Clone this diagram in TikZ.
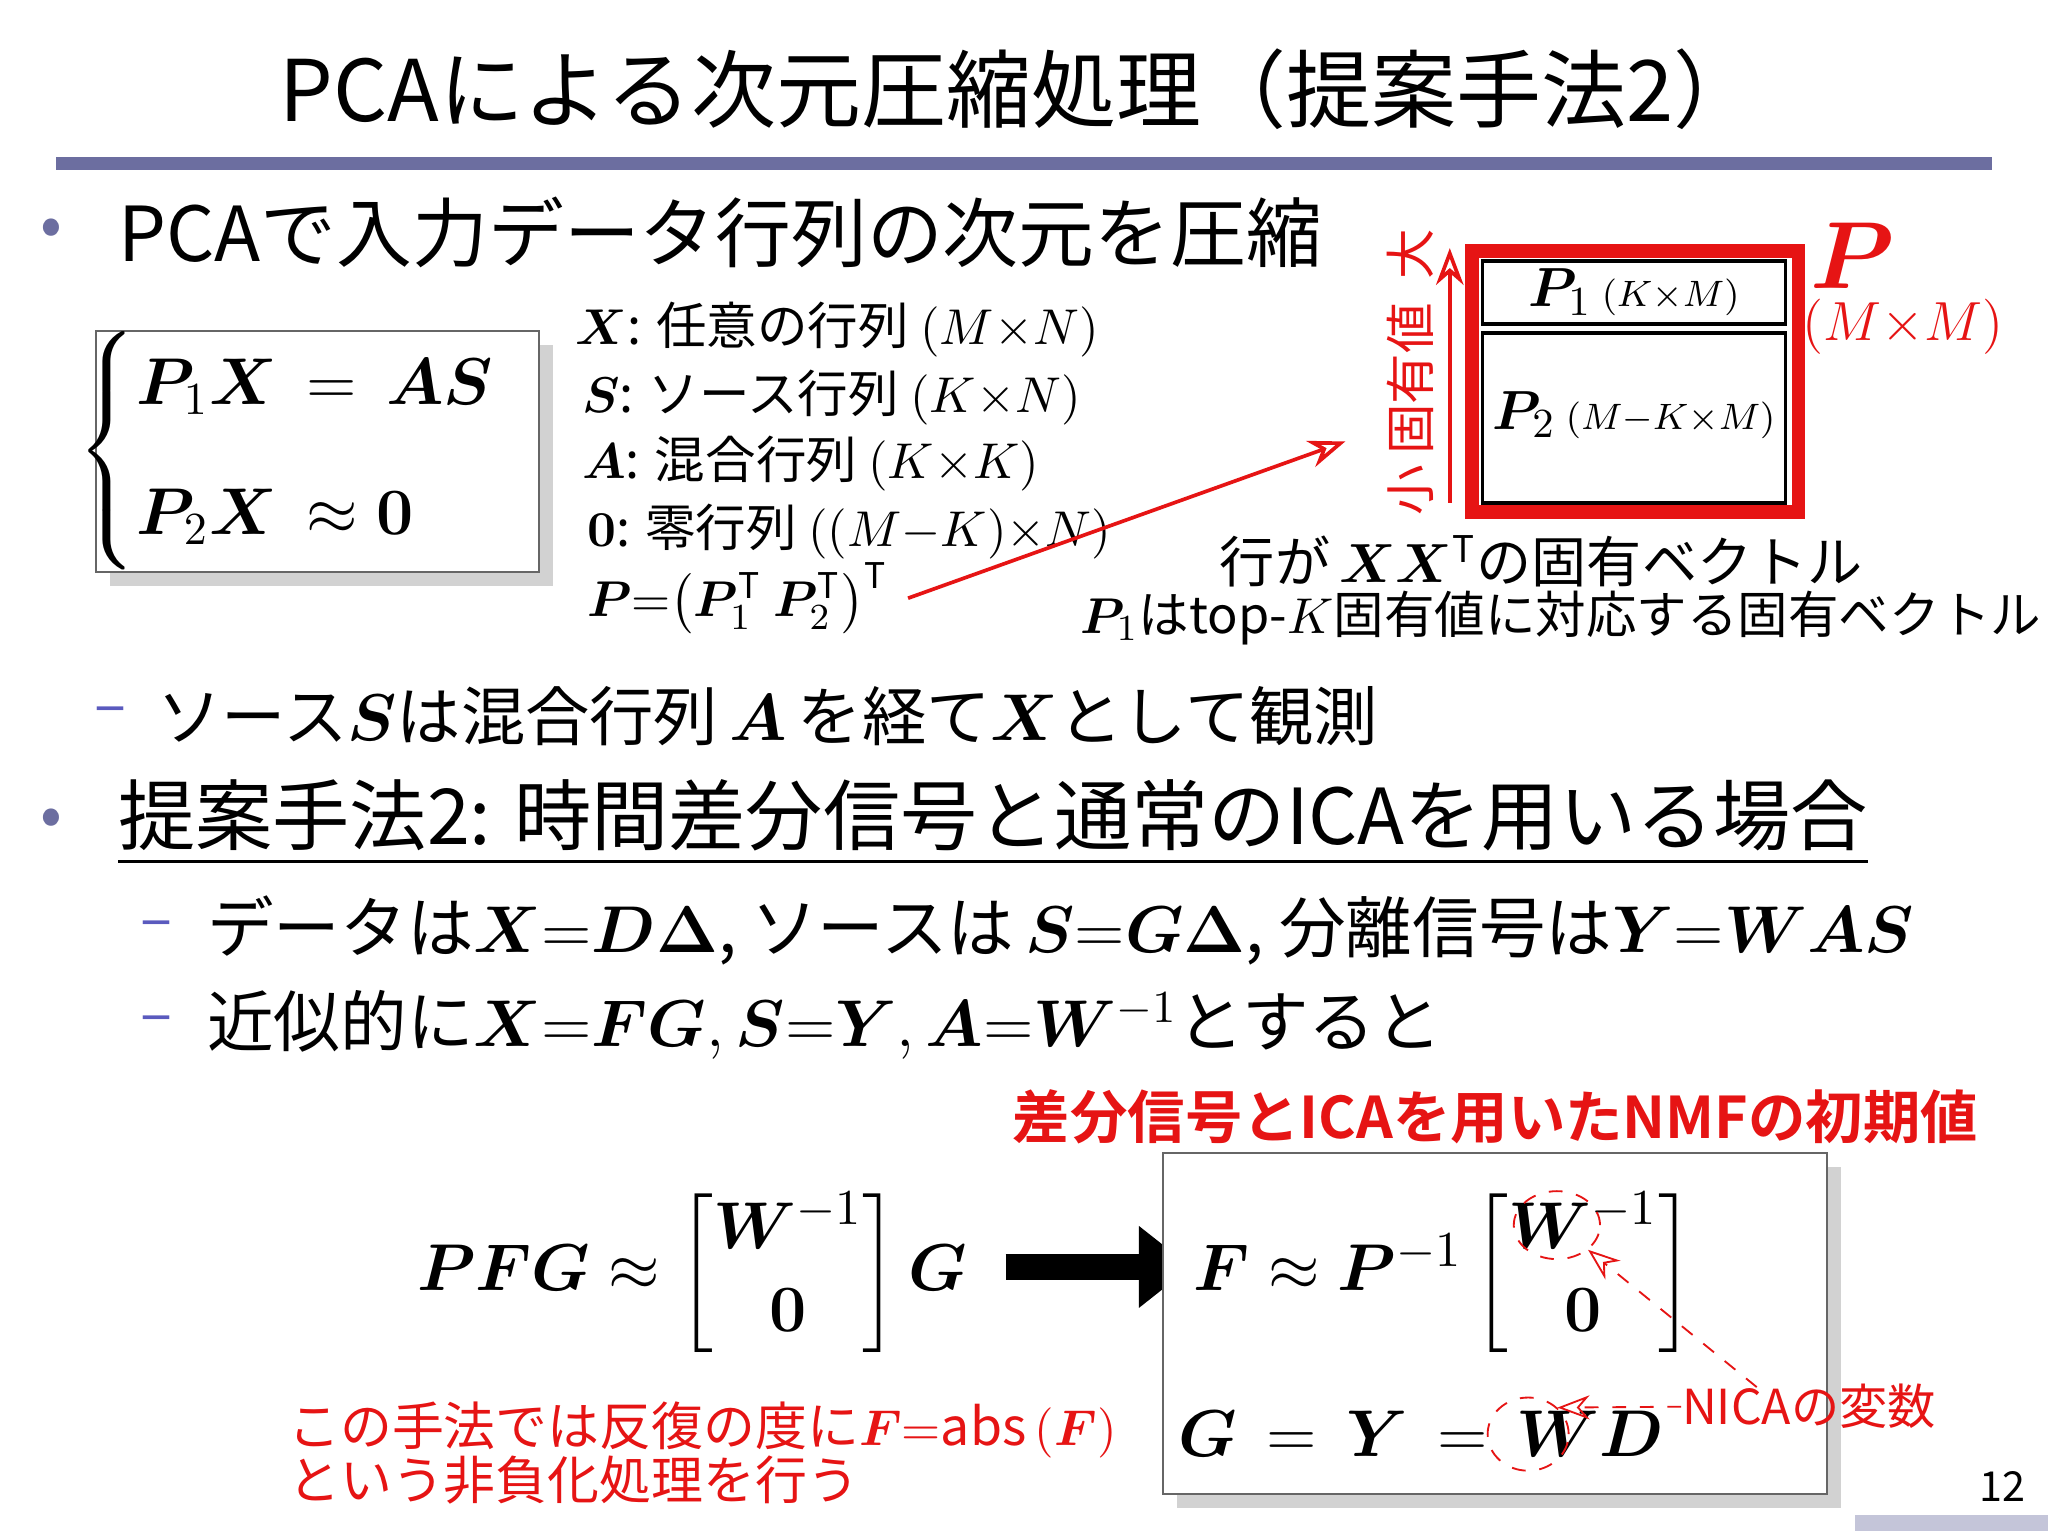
\documentclass[tikz,border=0pt]{standalone}
\usepackage{amsmath,bm}
\usepackage{fontspec}
\setmainfont{Noto Sans CJK JP}
\newfontfamily\jpb[BoldFont={* Bold}]{Noto Sans CJK JP}
\usetikzlibrary{arrows.meta,shadows,shapes.geometric}
\definecolor{barc}{RGB}{108,110,160}
\definecolor{redc}{RGB}{230,20,20}
\definecolor{dashc}{RGB}{90,90,190}
\tikzset{
  t/.style={inner sep=0pt,anchor=west},
  shbox/.style={draw=black!60,fill=white,inner sep=0pt,anchor=north west,drop shadow={shadow xshift=3pt,shadow yshift=-3pt,opacity=0.35}},
  circ/.style={draw=redc,dashed,ellipse,inner sep=0pt},
}
\newcommand{\bb}[1]{\boldsymbol{#1}}
\begin{document}
\begin{tikzpicture}[x=0.01cm,y=-0.01cm]
\useasboundingbox (0,0) rectangle (1568,1176);
\fill[white] (0,0) rectangle (1568,1176);
% title
\node[inner sep=0pt] (title) at (780,68) {\fontsize{18.5}{20}\selectfont PCAによる次元圧縮処理（提案手法2）};
\fill[barc] (43,120) rectangle (1525,130);
% bullet 1
\node[t,text=barc] (b1) at (30,178) {\fontsize{14}{16}\selectfont •};
\node[t] (l1) at (90,178) {\fontsize{16.5}{18}\selectfont PCAで入力データ行列の次元を圧縮};
% cases box
\node[shbox,minimum width=3.39cm,minimum height=1.84cm] (cb) at (73,253) {};
\node[inner sep=0pt] (cases) at (245,345) {\fontsize{14}{17}\selectfont $\begin{cases}\bb{P}_1\bb{X} \,=\, \bb{A}\bb{S}\\[8pt] \bb{P}_2\bb{X} \,\approx \bb{0}\end{cases}$};
% definitions
\node[t] (d1) at (440,252) {\fontsize{11}{13}\selectfont $\bb{X}$: 任意の行列 $(M{\times}N)$};
\node[t] (d2) at (445,304) {\fontsize{11}{13}\selectfont $\bb{S}$: ソース行列 $(K{\times}N)$};
\node[t] (d3) at (445,355) {\fontsize{11}{13}\selectfont $\bb{A}$: 混合行列 $(K{\times}K)$};
\node[t] (d4) at (449,407) {\fontsize{11}{13}\selectfont $\bb{0}$: 零行列 $((M{-}K){\times}N)$};
\node[t] (d5) at (449,458) {\fontsize{11}{13}\selectfont $\bb{P}{=}\bigl(\bb{P}_1^{\mathrm T}\ \bb{P}_2^{\mathrm T}\bigr)^{\mathrm T}$};
\coordinate (ae) at (1030,338);
\draw[redc,thick,-{Stealth[length=8pt,open]}] (d5.east) ++(15,0) -- (ae);
% eigen labels
\node[inner sep=0pt,text=redc] (big) at (1080,195) {\fontsize{11}{13}\selectfont\rotatebox{90}{大}};
\node[inner sep=0pt,text=redc] (ev) at (1080,290) {\fontsize{11}{13}\selectfont\rotatebox{90}{固有値}};
\node[inner sep=0pt,text=redc] (small) at (1080,375) {\fontsize{11}{13}\selectfont\rotatebox{90}{小}};
\coordinate (va) at (1110,385);\coordinate (vb) at (1110,190);
\draw[redc,thick,-{Stealth[length=8pt,open]}] (va) -- (vb);
\draw[redc,line width=3pt] (1127,192) rectangle (1377,392);
\draw[thick] (1135,200) rectangle (1367,248);
\draw[thick] (1135,255) rectangle (1367,385);
\node[inner sep=0pt] (p1) at (1251,224) {\fontsize{13}{15}\selectfont $\bb{P}_1$\,{\fontsize{8}{10}\selectfont$(K{\times}M)$}};
\node[inner sep=0pt] (p2) at (1251,318) {\fontsize{13}{15}\selectfont $\bb{P}_2$\,{\fontsize{8}{10}\selectfont$(M{-}K{\times}M)$}};
\node[inner sep=0pt,text=redc] (bigP) at (1418,196) {\fontsize{22}{24}\selectfont $\bb{P}$};
\node[inner sep=0pt,text=redc] (mm) at (1457,250) {\fontsize{11.5}{14}\selectfont $(M{\times}M)$};
\node[inner sep=0pt] (e1) at (1180,430) {\fontsize{12}{14}\selectfont 行が$\,\bb{X}\bb{X}^{\mathrm T}$の固有ベクトル};
\node[inner sep=0pt] (e2) at (1195,473) {\fontsize{11}{14}\selectfont $\bb{P}_1$はtop-$K$固有値に対応する固有ベクトル};
% sub
\node[t,text=dashc] (s1d) at (72,548) {\fontsize{13}{15}\selectfont –};
\node[t] (s1) at (120,548) {\fontsize{14}{15}\selectfont ソース$\bb{S}$は混合行列$\,\bb{A}\,$を経て$\bb{X}$として観測};
% bullet 2
\node[t,text=barc] (b2) at (30,630) {\fontsize{14}{16}\selectfont •};
\node[t] (l2) at (90,630) {\fontsize{16.8}{18}\selectfont \underline{提案手法2: 時間差分信号と通常のICAを用いる場合}};
\node[t,text=dashc] (s2d) at (107,712) {\fontsize{13}{15}\selectfont –};
\node[t] (s2) at (158,712) {\fontsize{14.5}{15}\selectfont データは$\bb{X}{=}\bb{D}\bb{\Delta}$, ソースは$\,\bb{S}{=}\bb{G}\bb{\Delta}$, 分離信号は$\bb{Y}{=}\bb{W}\bb{A}\bb{S}$};
\node[t,text=dashc] (s3d) at (107,785) {\fontsize{13}{15}\selectfont –};
\node[t] (s3) at (158,785) {\fontsize{14.5}{15}\selectfont 近似的に$\bb{X}{=}\bb{F}\bb{G}, \bb{S}{=}\bb{Y}, \bb{A}{=}\bb{W}^{-1}$とすると};
% bottom
\node[inner sep=0pt,text=redc] (rt) at (1145,855) {\fontsize{12.5}{14}\selectfont\jpb\bfseries 差分信号とICAを用いたNMFの初期値};
\node[inner sep=0pt] (leq) at (530,975) {\fontsize{15}{18}\selectfont $\bb{P}\bb{F}\bb{G}\approx\begin{bmatrix}\bb{W}^{-1}\\ \bb{0}\end{bmatrix}\bb{G}$};
\coordinate (aa) at (770,970);\coordinate (ab) at (912,970);
\draw[line width=0.2cm,-{Triangle[length=0.4cm,width=0.6cm]}] (aa) -- (ab);
\node[shbox,minimum width=5.08cm,minimum height=2.61cm] (rb) at (890,882) {};
\node[inner sep=0pt] (req) at (1105,975) {\fontsize{15}{18}\selectfont $\bb{F}\approx\bb{P}^{-1}\begin{bmatrix}\bb{W}^{-1}\\ \bb{0}\end{bmatrix}$};
\node[inner sep=0pt] (geq) at (1088,1098) {\fontsize{15}{18}\selectfont $\bb{G}\,=\,\bb{Y}\,=\,\bb{W}\bb{D}$};
\node[circ,minimum width=0.66cm,minimum height=0.52cm] (c1) at (1192,938) {};
\node[circ,minimum width=0.62cm,minimum height=0.56cm] (c2) at (1170,1098) {};
\node[inner sep=0pt,text=redc] (nica) at (1385,1077) {\fontsize{10.5}{12}\selectfont NICAの変数};
\draw[redc,dashed,-{Stealth[length=7pt,open]}] (1345,1062) -- (c1.south east);
\draw[redc,dashed,-{Stealth[length=7pt,open]}] (nica.west) -- (c2.north east);
\node[t,text=redc] (n1) at (220,1095) {\fontsize{11.3}{14}\selectfont この手法では反復の度に$\bb{F}{=}\mathrm{abs}\left(\bb{F}\right)$};
\node[t,text=redc] (n2) at (220,1133) {\fontsize{11.3}{14}\selectfont という非負化処理を行う};
\node[inner sep=0pt] (pg) at (1533,1138) {\fontsize{9}{10}\selectfont 12};
\fill[barc!40] (1420,1160) rectangle (1568,1172);
\end{tikzpicture}
\end{document}
